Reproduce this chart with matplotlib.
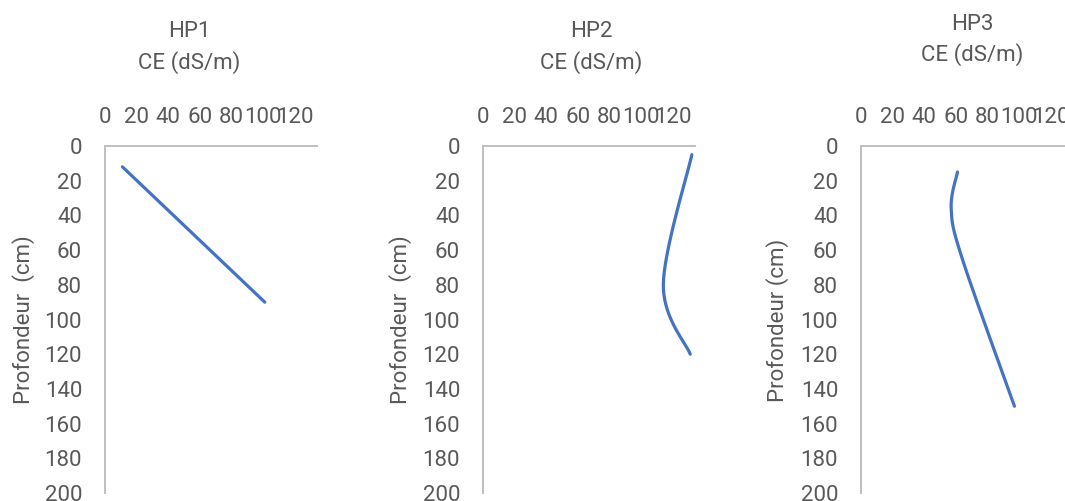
import numpy as np
import matplotlib
matplotlib.use("Agg")
import matplotlib.pyplot as plt

# data: CE (dS/m) against depth (cm)
hp1_ce = [11, 101]
hp1_depth = [12, 90]

hp2_ce = [132, 114, 131]
hp2_depth = [5, 80, 120]

hp3_ce = [61, 57, 64, 97]
hp3_depth = [15, 36, 65, 150]

titles = ["HP1", "HP2", "HP3"]
ylabels = ["Profondeur  (cm)", "Profondeur  (cm)", "Profondeur (cm)"]
x_ticks = [0, 20, 40, 60, 80, 100, 120]
y_ticks = [0, 20, 40, 60, 80, 100, 120, 140, 160, 180, 200]

TEXT = "#595959"
BLUE = "#4472C4"
GRID = "#BFBFBF"
FS = 16

plt.rcParams["font.family"] = ["Roboto", "DejaVu Sans"]


def smooth(xs, ys, n=60):
    # excel style smoothed line: bezier pieces through every point
    pts = np.array(list(zip(xs, ys)), dtype=float)
    if len(pts) < 3:
        return pts[:, 0], pts[:, 1]
    out = []
    t = np.linspace(0, 1, n)[:, None]
    for i in range(len(pts) - 1):
        p0 = pts[max(i - 1, 0)]
        p1 = pts[i]
        p2 = pts[i + 1]
        p3 = pts[min(i + 2, len(pts) - 1)]
        c1 = p1 + (p2 - p0) / 6
        c2 = p2 - (p3 - p1) / 6
        seg = (1 - t) ** 3 * p1 + 3 * (1 - t) ** 2 * t * c1 + 3 * (1 - t) * t ** 2 * c2 + t ** 3 * p2
        out.append(seg)
    out = np.vstack(out)
    return out[:, 0], out[:, 1]


W, H = 1065, 501
fig = plt.figure(figsize=(W / 100, H / 100), dpi=100)

lefts = [105, 483, 861]
title_x = [189, 591, 972]
title_y = [(37, 69), (37, 69), (30, 61)]
ylabel_x = [24, 401, 778]
series = [(hp1_ce, hp1_depth), (hp2_ce, hp2_depth), (hp3_ce, hp3_depth)]

for i in range(3):
    ax = fig.add_axes([lefts[i] / W, (H - 493) / H, 212 / W, 347 / H])
    xs, ys = smooth(*series[i])
    ax.plot(xs, ys, color=BLUE, linewidth=2.3, solid_capstyle="round")

    ax.set_xlim(0, 134)
    ax.set_ylim(200, 0)
    ax.set_xticks(x_ticks)
    ax.set_yticks(y_ticks)
    ax.xaxis.tick_top()
    ax.tick_params(axis="x", length=0, pad=13, labelsize=FS, labelcolor=TEXT)
    ax.tick_params(axis="y", length=0, pad=16.5, labelsize=FS, labelcolor=TEXT)
    for s in ["right", "bottom"]:
        ax.spines[s].set_visible(False)
    for s in ["left", "top"]:
        ax.spines[s].set_color(GRID)
        ax.spines[s].set_linewidth(1.4)

    fig.text(title_x[i] / W, 1 - title_y[i][0] / H, titles[i], ha="center",
             va="baseline", fontsize=FS, color=TEXT)
    fig.text(title_x[i] / W, 1 - title_y[i][1] / H, "CE (dS/m)", ha="center",
             va="baseline", fontsize=FS, color=TEXT)
    fig.text(ylabel_x[i] / W, 1 - 320 / H, ylabels[i], rotation=90, ha="center",
             va="center", fontsize=FS, color=TEXT)

fig.savefig("out.png", dpi=100)
